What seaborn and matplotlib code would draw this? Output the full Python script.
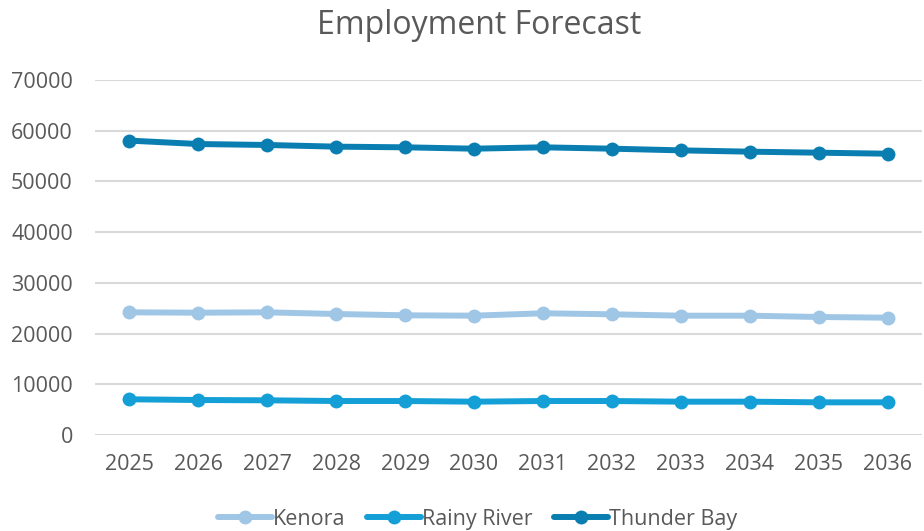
import matplotlib
matplotlib.use("Agg")
import matplotlib.pyplot as plt
import seaborn as sns
import pandas as pd

years = ["2025", "2026", "2027", "2028", "2029", "2030",
         "2031", "2032", "2033", "2034", "2035", "2036"]
kenora = [24190, 24120, 24190, 23860, 23600, 23530,
          24000, 23800, 23530, 23530, 23270, 23130]
rainy_river = [7040, 6900, 6840, 6700, 6700, 6570,
               6700, 6700, 6570, 6570, 6440, 6440]
thunder_bay = [58050, 57380, 57190, 56860, 56730, 56460,
               56730, 56460, 56130, 55870, 55670, 55470]
regions = ["Kenora", "Rainy River", "Thunder Bay"]
y_ticks = [0, 10000, 20000, 30000, 40000, 50000, 60000, 70000]

df = pd.DataFrame({
    "Year": years * 3,
    "Employment": kenora + rainy_river + thunder_bay,
    "Region": [r for r in regions for _ in years],
})

sns.set_theme(style="white")
plt.rcParams["font.family"] = ["Open Sans", "DejaVu Sans"]

palette = {"Kenora": "#A0C6E6", "Rainy River": "#149FD6", "Thunder Bay": "#0A7EB1"}
text_color = "#595959"

fig = plt.figure(figsize=(9.24, 5.31), dpi=100)
ax = fig.add_axes([0.1028, 0.1808, 0.895, 0.6685])

sns.lineplot(data=df, x="Year", y="Employment", hue="Region", hue_order=regions,
             palette=palette, marker="o", markersize=10, markeredgewidth=0,
             linewidth=4.3, ax=ax, sort=False, zorder=3)

ax.set_xlim(-0.5, 11.5)
ax.set_ylim(0, 70000)
ax.set_yticks(y_ticks)
ax.set_yticklabels([str(v) for v in y_ticks])
ax.grid(axis="y", color="#D9D9D9", linewidth=1.5, zorder=0)
ax.grid(axis="x", visible=False)
for s in ax.spines.values():
    s.set_visible(False)
ax.tick_params(axis="both", length=0, labelsize=15.5, labelcolor=text_color)
ax.tick_params(axis="x", pad=14)
ax.tick_params(axis="y", pad=16)
ax.set_xlabel("")
ax.set_ylabel("")

handles, labels = ax.get_legend_handles_labels()
ax.get_legend().remove()
fig.legend(handles, labels, loc="center", bbox_to_anchor=(0.517, 0.022),
           ncol=3, frameon=False, fontsize=15.5, labelcolor=text_color,
           handlelength=2.5, handletextpad=0.05, columnspacing=1.0,
           borderpad=0)

fig.text(0.518, 0.952, "Employment Forecast", ha="center", va="center",
         fontsize=23, color=text_color)

fig.savefig("out.png", dpi=100)
